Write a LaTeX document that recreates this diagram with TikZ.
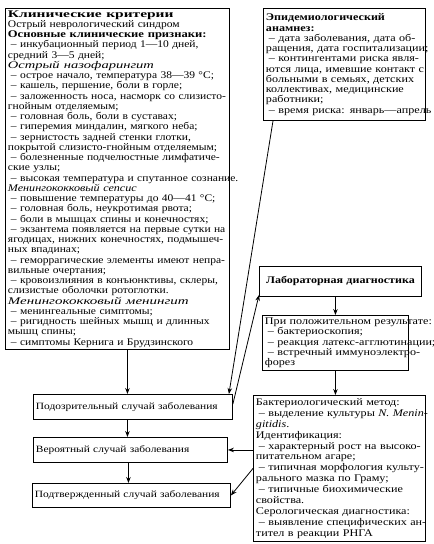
\documentclass[tikz,border=0pt]{standalone}
\usepackage{fontspec}
\usepackage{graphicx}
\setmainfont{Liberation Serif}[FakeStretch=1.19]
\newfontfamily\clinfont{Liberation Serif}[FakeStretch=1.13]
\usetikzlibrary{arrows.meta,calc}
\tikzset{
  box/.style={draw, line width=0.9pt, anchor=north west, inner xsep=2.5pt, inner ysep=1pt, align=left, font=\fontsize{10.2}{10.25}\selectfont},
  small/.style={font=\fontsize{9.6}{11}\selectfont},
  arr/.style={line width=0.8pt, -{Stealth[length=6pt,width=4.5pt]}},
}
\newcommand{\ds}{\hspace*{3pt}–\ }
\newcommand{\LL}[1]{\mbox{#1}}
\newcommand{\SX}[2]{\scalebox{#1}[1]{#2}}
\begin{document}
\begin{tikzpicture}[x=1pt,y=-1pt]
\useasboundingbox (0,0) rectangle (434,544);
\node[box, minimum width=224pt, minimum height=341pt, text width=219pt, font=\clinfont\fontsize{10.2}{10.25}\selectfont] (clin) at (5,8) {%
\LL{\SX{1.34}{\textbf{Клинические критерии}}}\\
\LL{Острый неврологический синдром}\\
\LL{\SX{1.09}{\textbf{Основные клинические признаки:}}}\\
\LL{\ds инкубационный период 1—10 дней,}\\
\LL{средний 3—5 дней;}\\
\LL{\SX{1.26}{\textit{Острый назофарингит}}}\\
\LL{\ds острое начало, температура 38—39 °С;}\\
\LL{\ds кашель, першение, боли в горле;}\\
\LL{\ds заложенность носа, насморк со слизисто-}\\
\LL{гнойным отделяемым;}\\
\LL{\ds головная боль, боли в суставах;}\\
\LL{\ds гиперемия миндалин, мягкого неба;}\\
\LL{\ds зернистость задней стенки глотки,}\\
\LL{покрытой слизисто-гнойным отделяемым;}\\
\LL{\ds болезненные подчелюстные лимфатиче-}\\
\LL{ские узлы;}\\
\LL{\ds высокая температура и спутанное сознание.}\\
\LL{\SX{1.05}{\textit{Менингококковый сепсис}}}\\
\LL{\ds повышение температуры до 40—41 °С;}\\
\LL{\ds головная боль, неукротимая рвота;}\\
\LL{\ds боли в мышцах спины и конечностях;}\\
\LL{\ds экзантема появляется на первые сутки на}\\
\LL{ягодицах, нижних конечностях, подмышеч-}\\
\LL{ных впадинах;}\\
\LL{\ds геморрагические элементы имеют непра-}\\
\LL{вильные очертания;}\\
\LL{\ds кровоизлияния в конъюнктивы, склеры,}\\
\LL{слизистые оболочки ротоглотки.}\\
\LL{\SX{1.3}{\textit{Менингококковый менингит}}}\\
\LL{\ds менингеальные симптомы;}\\
\LL{\ds ригидность шейных мышц и длинных}\\
\LL{мышц спины;}\\
\LL{\ds симптомы Кернига и Брудзинского}};
\node[box, minimum width=162pt, minimum height=112pt, text width=157pt] (epid) at (263,8) {%
\LL{\textbf{Эпидемиологический}}\\
\LL{\textbf{анамнез:}}\\
\LL{\ds дата заболевания, дата об-}\\
\LL{ращения, дата госпитализации;}\\
\LL{\ds контингентами риска явля-}\\
\LL{ются лица, имевшие контакт с}\\
\LL{больными в семьях, детских}\\
\LL{коллективах, медицинские}\\
\LL{работники;}\\
\LL{\ds время риска: январь—апрель}};
\node[box, align=center, minimum width=162pt, minimum height=30pt, text width=157pt, font=\fontsize{10.1}{12}\selectfont\bfseries] (lab) at (259,266) {\LL{Лабораторная диагностика}};
\node[box, minimum width=146pt, minimum height=55pt, text width=141pt] (pos) at (262,315) {%
\LL{При положительном результате:}\\
\LL{\ds бактериоскопия;}\\
\LL{\ds реакция латекс-агглютинации;}\\
\LL{\ds встречный иммуноэлектро-}\\
\LL{форез}};
\node[box, minimum width=172pt, minimum height=146pt, text width=167pt, font=\fontsize{10.2}{10.9}\selectfont] (bact) at (253,395) {%
\LL{Бактериологический метод:}\\
\LL{\ds выделение культуры \textit{N. Menin-}}\\
\LL{\textit{gitidis}.}\\
\LL{Идентификация:}\\
\LL{\ds характерный рост на высоко-}\\
\LL{питательном агаре;}\\
\LL{\ds типичная морфология культу-}\\
\LL{рального мазка по Граму;}\\
\LL{\ds типичные биохимические}\\
\LL{свойства.}\\
\LL{Серологическая диагностика:}\\
\LL{\ds выявление специфических ан-}\\
\LL{тител в реакции РНГА}};
\node[box, small, minimum width=199pt, minimum height=25pt, text width=194pt] (susp) at (33,394) {\LL{Подозрительный случай заболевания}};
\node[box, small, minimum width=194pt, minimum height=25pt, text width=189pt] (prob) at (33,437) {\LL{Вероятный случай заболевания}};
\node[box, small, minimum width=198pt, minimum height=24pt, text width=193pt] (conf) at (32,483) {\LL{Подтвержденный случай заболевания}};
\draw[arr] ([xshift=10pt]clin.south) -- ([xshift=-5.5pt]susp.north);
\draw[arr] ([xshift=-5.5pt]susp.south) -- ([xshift=-3pt]prob.north);
\draw[arr] ([xshift=-2pt]prob.south) -- ([xshift=-3pt]conf.north);
\draw[arr] (bact.west |- prob.east) -- (prob.east);
\draw[arr] (bact.west) -- (conf.east);
\draw[arr] ([xshift=10pt]epid.south west) -- ([xshift=-4pt]susp.north east);
\draw[arr] ([yshift=3pt]susp.east) -- ([yshift=2pt]lab.south west);
\draw[arr] (pos.north |- lab.south) -- (pos.north);
\draw[arr] (pos.south) -- (pos.south |- bact.north);
\end{tikzpicture}
\end{document}
